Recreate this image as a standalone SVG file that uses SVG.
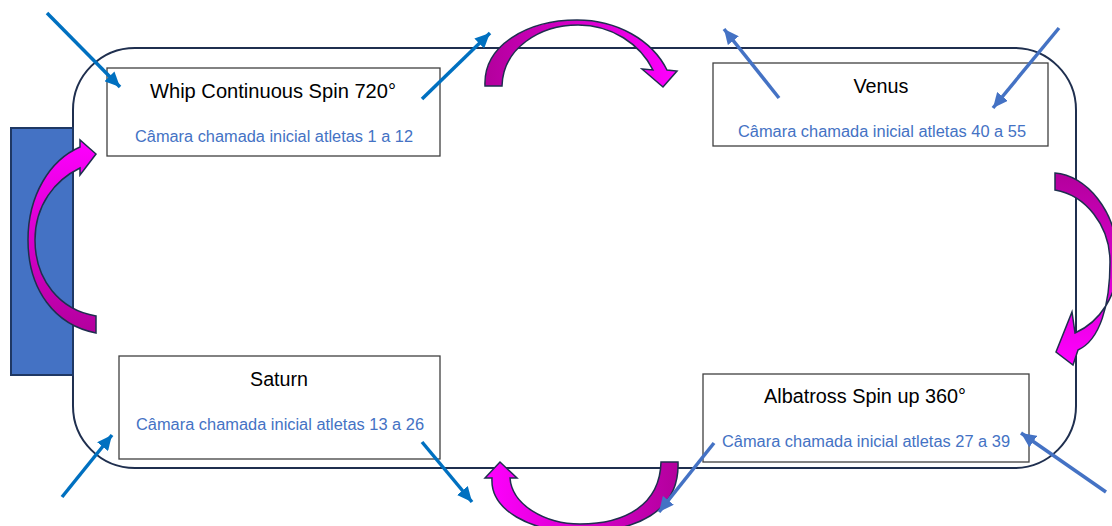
<svg xmlns="http://www.w3.org/2000/svg" width="1112" height="526" viewBox="0 0 1112 526">
<style>
.track{fill:none;stroke:#1f2f4f;stroke-width:2}
.box{fill:#ffffff;stroke:#404040;stroke-width:1.3}
.title{font-family:"Liberation Sans",Arial,sans-serif;font-size:20px;fill:#000000;text-anchor:middle}
.sub{font-family:"Liberation Sans",Arial,sans-serif;font-size:16px;fill:#4472c4}
.curve{stroke:#1f2f4f;stroke-width:1.5;stroke-linejoin:miter}
.la{fill:none;stroke:#0070c0;stroke-width:3.5;marker-end:url(#headA)}
.lb{fill:none;stroke:#4472c4;stroke-width:3.5;marker-end:url(#headB)}
</style>
<defs>
<marker id="headA" markerUnits="userSpaceOnUse" markerWidth="16" markerHeight="14" refX="15" refY="7" orient="auto"><path d="M0,0 L15,7 L0,14 Z" fill="#0070c0"/></marker>
<marker id="headB" markerUnits="userSpaceOnUse" markerWidth="16" markerHeight="14" refX="15" refY="7" orient="auto"><path d="M0,0 L15,7 L0,14 Z" fill="#4472c4"/></marker>
<linearGradient id="gTop" x1="0" y1="0" x2="1" y2="0"><stop offset="0" stop-color="#b3009c"/><stop offset="0.5" stop-color="#d800cc"/><stop offset="1" stop-color="#ff00ff"/></linearGradient>
<linearGradient id="gRight" x1="0" y1="0" x2="0" y2="1"><stop offset="0" stop-color="#b3009c"/><stop offset="0.5" stop-color="#d800cc"/><stop offset="1" stop-color="#ff00ff"/></linearGradient>
<linearGradient id="gBottom" x1="1" y1="0" x2="0" y2="0"><stop offset="0" stop-color="#b3009c"/><stop offset="0.5" stop-color="#d800cc"/><stop offset="1" stop-color="#ff00ff"/></linearGradient>
<linearGradient id="gLeft" x1="0" y1="1" x2="0" y2="0"><stop offset="0" stop-color="#b3009c"/><stop offset="0.5" stop-color="#d800cc"/><stop offset="1" stop-color="#ff00ff"/></linearGradient>
</defs>
<rect width="1112" height="526" fill="#ffffff"/>
<g id="track"><rect class="track" x="73" y="48" width="1003" height="420" rx="62" ry="62"/></g>
<g id="start-block"><rect x="11" y="128" width="62" height="247" fill="#4472c4" stroke="#1f3864" stroke-width="2"/></g>
<g id="node-whip">
<rect class="box" x="107" y="68" width="333" height="88"/>
<text class="title" x="273" y="98" textLength="246" lengthAdjust="spacingAndGlyphs">Whip Continuous Spin 720°</text>
<text class="sub" x="135" y="142" textLength="278" lengthAdjust="spacingAndGlyphs">Câmara chamada inicial atletas 1 a 12</text>
</g>
<g id="node-venus">
<rect class="box" x="713" y="63" width="335" height="83"/>
<text class="title" x="881" y="93" textLength="55" lengthAdjust="spacingAndGlyphs">Venus</text>
<text class="sub" x="738" y="137" textLength="288" lengthAdjust="spacingAndGlyphs">Câmara chamada inicial atletas 40 a 55</text>
</g>
<g id="node-saturn">
<rect class="box" x="119" y="356" width="321" height="103"/>
<text class="title" x="279" y="386" textLength="58" lengthAdjust="spacingAndGlyphs">Saturn</text>
<text class="sub" x="136" y="430" textLength="288" lengthAdjust="spacingAndGlyphs">Câmara chamada inicial atletas 13 a 26</text>
</g>
<g id="node-albatross">
<rect class="box" x="703" y="374" width="326" height="88"/>
<text class="title" x="865" y="403" textLength="202" lengthAdjust="spacingAndGlyphs">Albatross Spin up 360°</text>
<text class="sub" x="722" y="447" textLength="288" lengthAdjust="spacingAndGlyphs">Câmara chamada inicial atletas 27 a 39</text>
</g>
<g id="connectors">
<path class="curve" fill="url(#gTop)" d="M485,86 C483,45 528,20 577,20 C617,20 652,40 667,70 L677,71 L663,87 L642,69 L653,70 C640,44 612,25 578,25 C540,25 503,48 502,86 Z"/>
<path class="curve" fill="url(#gRight)" d="M1055,173 C1085,175 1118,210 1118,262 C1118,295 1100,322 1075,333 L1072,312 L1056,352 L1073,365 L1078,350 C1100,340 1110,305 1110,262 C1110,225 1085,195 1055,190 Z"/>
<path class="curve" fill="url(#gBottom)" d="M678,462 C680,512 635,532 580,532 C530,532 490,510 492,478 L485,478 L500,462 L517,478 L510,478 C512,505 545,524 580,524 C625,524 660,505 661,462 Z"/>
<path class="curve" fill="url(#gLeft)" d="M96,333 C55,325 28,290 28,240 C28,195 50,160 80,147 L80,140 L96,154 L80,175 L80,168 C55,180 35,205 35,240 C35,280 60,310 96,316 Z"/>
<line class="la" x1="47" y1="13" x2="120" y2="87"/>
<line class="la" x1="422" y1="99" x2="490" y2="33"/>
<line class="lb" x1="779" y1="98" x2="724" y2="29"/>
<line class="lb" x1="1059" y1="28" x2="993" y2="108"/>
<line class="lb" x1="1106" y1="492" x2="1021" y2="433"/>
<line class="lb" x1="714" y1="443" x2="659" y2="512"/>
<line class="la" x1="422" y1="442" x2="472" y2="502"/>
<line class="la" x1="62" y1="497" x2="112" y2="435"/>
</g>
</svg>
